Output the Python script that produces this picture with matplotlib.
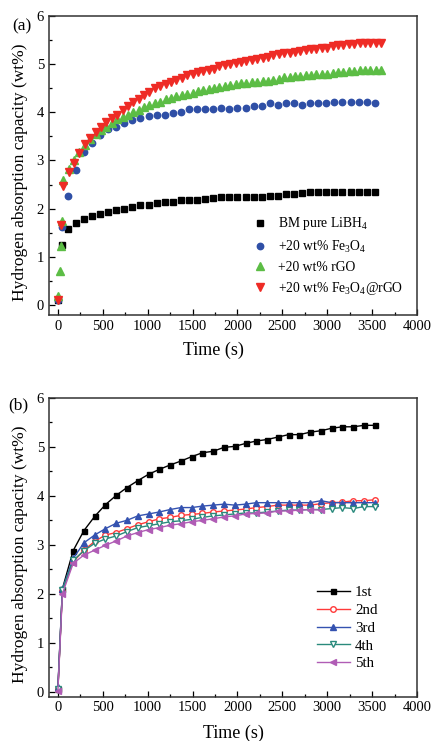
import matplotlib
matplotlib.use("Agg")
import matplotlib.pyplot as plt
from matplotlib.ticker import MultipleLocator

plt.rcParams['font.family'] = ['Liberation Serif', 'DejaVu Serif']
plt.rcParams['mathtext.fontset'] = 'custom'
plt.rcParams['mathtext.rm'] = 'Liberation Serif'
plt.rcParams['mathtext.it'] = 'Liberation Serif:italic'

# ---- panel (a) data ----
t_black = [0, 45] + [110 + 90 * k for k in range(39)]
y_black = [0.1, 1.25, 1.57, 1.7, 1.78, 1.85, 1.9, 1.94, 1.98, 2.0, 2.03, 2.07,
           2.08, 2.12, 2.14, 2.14, 2.17, 2.17, 2.17, 2.2, 2.22, 2.25, 2.25, 2.25,
           2.25, 2.25, 2.25, 2.27, 2.27, 2.3, 2.3, 2.33, 2.35, 2.35, 2.35, 2.35,
           2.35, 2.35, 2.35, 2.35, 2.35]

t_blue = [0, 45] + [110 + 90 * k for k in range(39)]
y_blue = [0.1, 1.63, 2.27, 2.8, 3.17, 3.37, 3.52, 3.65, 3.7, 3.77, 3.83, 3.87,
          3.92, 3.95, 3.95, 3.98, 4.0, 4.06, 4.06, 4.06, 4.06, 4.09, 4.06, 4.09,
          4.09, 4.12, 4.12, 4.18, 4.15, 4.18, 4.18, 4.15, 4.18, 4.18, 4.18, 4.2,
          4.2, 4.2, 4.2, 4.2, 4.18]

t_green = [0, 25, 40, 50] + [60 * k for k in range(1, 61)]
y_green = [0.2, 0.72, 1.22, 1.75, 2.59, 2.82, 3.0, 3.18, 3.32, 3.45, 3.55, 3.62,
           3.7, 3.78, 3.85, 3.9, 3.95, 4.0, 4.05, 4.1, 4.15, 4.18, 4.22, 4.27,
           4.3, 4.33, 4.36, 4.38, 4.4, 4.43, 4.46, 4.48, 4.5, 4.53, 4.55, 4.57,
           4.58, 4.6, 4.6, 4.62, 4.63, 4.64, 4.65, 4.66, 4.68, 4.72, 4.73, 4.74,
           4.75, 4.76, 4.77, 4.78, 4.8, 4.8, 4.82, 4.83, 4.84, 4.85, 4.86, 4.87,
           4.87, 4.87, 4.87, 4.87]

t_red = [0, 30] + [60 * k for k in range(1, 61)]
y_red = [0.1, 1.66, 2.47, 2.77, 2.95, 3.15, 3.33, 3.47, 3.58, 3.7, 3.8, 3.88,
         3.95, 4.05, 4.12, 4.2, 4.28, 4.35, 4.42, 4.5, 4.55, 4.58, 4.63, 4.67,
         4.7, 4.76, 4.8, 4.83, 4.86, 4.87, 4.9, 4.95, 4.98, 5.0, 5.02, 5.04,
         5.06, 5.08, 5.1, 5.13, 5.15, 5.18, 5.2, 5.22, 5.23, 5.24, 5.26, 5.28,
         5.3, 5.3, 5.32, 5.33, 5.37, 5.4, 5.4, 5.41, 5.42, 5.43, 5.43, 5.43,
         5.43, 5.43]

labels_a = ['BM pure LiBH$_4$', '+20 wt% Fe$_3$O$_4$', '+20 wt% rGO',
            '+20 wt% Fe$_3$O$_4$@rGO']

# ---- panel (b) data ----
t_cyc = [0, 50] + [170 + 120 * k for k in range(29)]
y_1st = [0.05, 2.1, 2.88, 3.29, 3.58, 3.82, 4.01, 4.17, 4.31, 4.44, 4.54, 4.63,
         4.71, 4.8, 4.88, 4.91, 4.99, 5.01, 5.07, 5.12, 5.15, 5.2, 5.25, 5.25,
         5.3, 5.33, 5.38, 5.41, 5.41, 5.44, 5.44]
y_2nd = [0.05, 2.05, 2.65, 2.89, 3.07, 3.2, 3.25, 3.33, 3.41, 3.47, 3.53, 3.56,
         3.6, 3.62, 3.64, 3.67, 3.69, 3.71, 3.73, 3.76, 3.78, 3.81, 3.81, 3.81,
         3.81, 3.84, 3.86, 3.87, 3.9, 3.9, 3.92]
y_3rd = [0.1, 2.1, 2.72, 3.04, 3.2, 3.33, 3.44, 3.5, 3.59, 3.63, 3.67, 3.72,
         3.76, 3.76, 3.79, 3.81, 3.83, 3.81, 3.83, 3.86, 3.86, 3.86, 3.86, 3.86,
         3.86, 3.9, 3.86, 3.86, 3.86, 3.86, 3.86]
y_4th = [0.05, 2.08, 2.68, 2.88, 3.03, 3.12, 3.18, 3.27, 3.35, 3.39, 3.43, 3.47,
         3.49, 3.52, 3.56, 3.59, 3.61, 3.63, 3.65, 3.65, 3.67, 3.69, 3.71, 3.71,
         3.72, 3.72, 3.74, 3.76, 3.74, 3.78, 3.78]
t_5th = t_cyc[:26]
y_5th = [0.02, 2.0, 2.62, 2.79, 2.89, 2.99, 3.08, 3.18, 3.25, 3.31, 3.35, 3.4,
         3.43, 3.47, 3.5, 3.53, 3.57, 3.59, 3.63, 3.64, 3.65, 3.69, 3.69, 3.71,
         3.72, 3.71]
labels_b = ['1st', '2nd', '3rd', '4th', '5th']

fig = plt.figure(figsize=(4.33, 7.41), dpi=100)
ax1 = fig.add_axes([0.113, 0.575, 0.850, 0.404])
ax2 = fig.add_axes([0.113, 0.060, 0.850, 0.403])

ax1.plot(t_black, y_black, 's', color='black', ms=4.0, ls='none', label=labels_a[0])
ax1.plot(t_blue, y_blue, 'o', color='#2f4fa6', ms=4.6, ls='none', label=labels_a[1])
ax1.plot(t_green, y_green, '^', color='#5cbd45', ms=5.2, ls='none', label=labels_a[2])
ax1.plot(t_red, y_red, 'v', color='#ee2b25', ms=5.2, ls='none', label=labels_a[3])

ax2.plot(t_cyc, y_1st, '-s', color='black', ms=3.6, lw=1.0, label=labels_b[0])
ax2.plot(t_cyc, y_2nd, '-o', color='#ff3a3a', mfc='white', mec='#ff3a3a', ms=4.0,
         lw=1.0, label=labels_b[1])
ax2.plot(t_cyc, y_3rd, '-^', color='#3452b0', ms=4.2, lw=1.0, label=labels_b[2])
ax2.plot(t_cyc, y_4th, '-v', color='#2a8a7c', mfc='white', mec='#2a8a7c', ms=4.2,
         lw=1.0, label=labels_b[3])
ax2.plot(t_5th, y_5th, '-<', color='#b05cb5', ms=4.2, lw=1.0, label=labels_b[4])

for ax, ylo in ((ax1, -0.2), (ax2, -0.1)):
    ax.set_xlim(-100, 4000)
    ax.set_ylim(ylo, 6)
    ax.xaxis.set_major_locator(MultipleLocator(500))
    ax.xaxis.set_minor_locator(MultipleLocator(250))
    ax.yaxis.set_major_locator(MultipleLocator(1))
    ax.yaxis.set_minor_locator(MultipleLocator(0.5))
    ax.tick_params(which='both', direction='in', top=False, right=False,
                   labelsize=10.5, width=0.9)
    ax.tick_params(which='major', length=4)
    ax.tick_params(which='minor', length=2.5)
    for s in ax.spines.values():
        s.set_linewidth(1.1)
        s.set_color('#333333')
    ax.set_xlabel('Time (s)', fontsize=13)
    ax.set_ylabel('Hydrogen absorption capacity (wt%)', fontsize=12.5)

ax1.xaxis.set_label_coords(0.448, -0.09)
ax1.yaxis.set_label_coords(-0.057, 0.478)
ax2.xaxis.set_label_coords(0.5, -0.094)
ax2.yaxis.set_label_coords(-0.057, 0.477)

ax1.legend(loc='lower left', bbox_to_anchor=(0.552, 0.06), borderaxespad=0,
           borderpad=0, frameon=False, fontsize=9.8, handlelength=1.2,
           handletextpad=0.74, labelspacing=0.45)
ax2.legend(loc='lower left', bbox_to_anchor=(0.728, 0.088), borderaxespad=0,
           borderpad=0, frameon=False, fontsize=10.8, handlelength=2.2,
           handletextpad=0.35, labelspacing=0.28)

fig.text(0.028, 0.965, '(a)', fontsize=12.5, va='center')
fig.text(0.018, 0.453, '(b)', fontsize=12.5, va='center')

fig.savefig('out.png', dpi=100)
